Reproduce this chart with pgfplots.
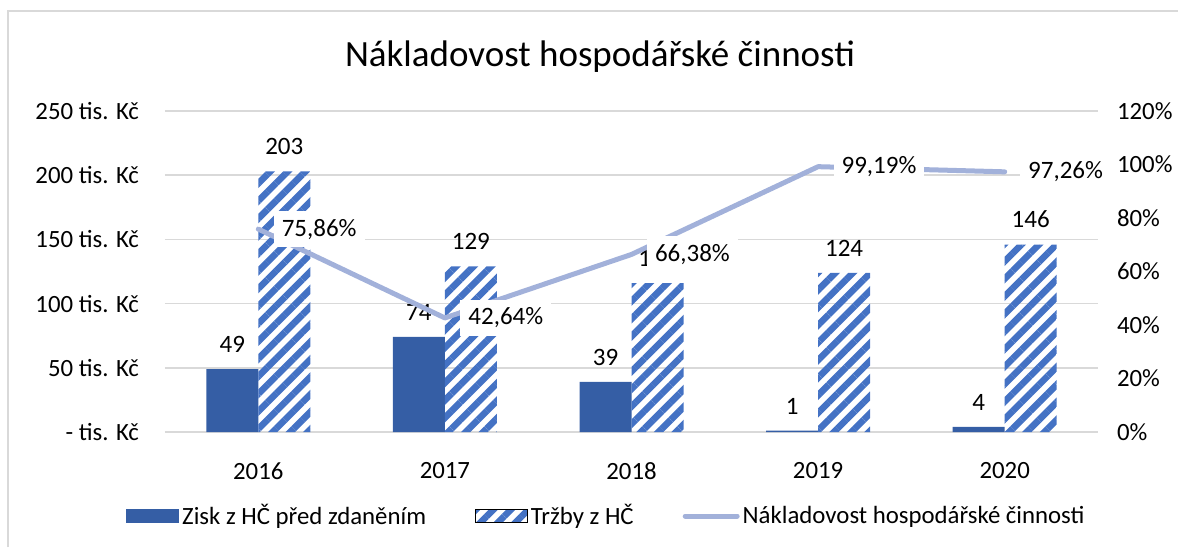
\documentclass[border=0pt]{standalone}
\usepackage{fontspec}
\setmainfont{Carlito}
\usepackage{pgfplots}
\pgfplotsset{compat=1.18}
\usetikzlibrary{patterns.meta}
\definecolor{zisk}{RGB}{53,94,165}
\definecolor{trz}{RGB}{68,114,196}
\definecolor{nak}{RGB}{162,177,218}
\definecolor{gridc}{RGB}{217,217,217}
\begin{document}
\begin{tikzpicture}
\useasboundingbox (-82.5pt,-57.5pt) rectangle (506.5pt,216pt);
\draw[gridc, line width=1pt] (-78.5pt,-57.5pt) -- (-78.5pt,210.5pt) -- (506.5pt,210.5pt);
\node[font=\fontsize{18.5}{22}\selectfont] at (217.5pt,187.5pt) {Nákladovost hospodářské činnosti};
\begin{axis}[
  at={(0pt,0pt)}, anchor=south west,
  scale only axis, width=466.5pt, height=160.5pt,
  xmin=-0.5, xmax=4.5, ymin=0, ymax=250,
  ytick={0,50,...,250},
  yticklabels={- tis. Kč, 50 tis. Kč, 100 tis. Kč, 150 tis. Kč, 200 tis. Kč, 250 tis. Kč},
  xtick={0,...,4}, xticklabels={2016,2017,2018,2019,2020},
  axis line style={draw=none},
  tick style={draw=none},
  ymajorgrids, grid style={gridc, line width=0.75pt},
  ticklabel style={font=\fontsize{12.4}{14}\selectfont},
  yticklabel style={xshift=-9.5pt},
  xticklabel style={yshift=-7.5pt},
  ybar=0pt, bar width=26pt,
  nodes near coords, point meta=explicit symbolic,
  every node near coord/.append style={font=\fontsize{12.5}{14}\selectfont, anchor=south, inner sep=0pt, yshift=8pt, text=black},
  clip=false,
]
\addplot[fill=zisk, draw=none] table[meta=l] {
x y l
0 49 49
1 74 74
2 39 39
3 1 1
4 4 4
};
\addplot[draw=none, pattern={Lines[angle=45,distance=6.2pt,line width=3.3pt]}, pattern color=trz] table[meta=l] {
x y l
0 203 203
1 129 129
2 116 116
3 124 124
4 146 146
};
\end{axis}
\begin{axis}[
  at={(0pt,0pt)}, anchor=south west,
  scale only axis, width=466.5pt, height=160.5pt,
  xmin=-0.5, xmax=4.5, ymin=0, ymax=120,
  axis y line*=right, axis x line=none,
  ytick={0,20,...,120},
  yticklabels={0\%,20\%,40\%,60\%,80\%,100\%,120\%},
  axis line style={draw=none}, tick style={draw=none},
  ticklabel style={font=\fontsize{12.4}{14}\selectfont},
  yticklabel style={xshift=6pt},
  clip=false,
  legend columns=3,
  legend style={at={(0.4737,-0.2617)}, anchor=center, draw=none, fill=none,
    font=\fontsize{12.4}{14}\selectfont,
    /tikz/every even column/.append style={column sep=23pt},
    nodes={inner xsep=1.5pt}},
  legend cell align=left,
]
\addlegendimage{legend image code/.code={\fill[zisk] (0pt,-3.25pt) rectangle (26pt,3.25pt);}}
\addlegendentry{Zisk z HČ před zdaněním}
\addlegendimage{legend image code/.code={\fill[pattern={Lines[angle=45,distance=6.2pt,line width=3.3pt]}, pattern color=trz] (0pt,-3.25pt) rectangle (26pt,3.25pt);}}
\addlegendentry{Tržby z HČ}
\addlegendimage{legend image code/.code={\draw[nak, line width=2.5pt, line cap=round] (0pt,0pt) -- (26pt,0pt);}}
\addlegendentry{Nákladovost hospodářské činnosti}
\addplot[nak, line width=2.5pt, line cap=round, line join=round, mark=none, forget plot,
  nodes near coords, point meta=explicit symbolic,
  every node near coord/.append style={anchor=west, fill=white, inner sep=4pt, xshift=6.5pt, font=\fontsize{12.5}{14}\selectfont, text=black}]
  table[meta=l] {
x y l
0 75.86 {75,86\%}
1 42.64 {42,64\%}
2 66.38 {66,38\%}
3 99.19 {99,19\%}
4 97.26 {97,26\%}
};
\end{axis}
\end{tikzpicture}
\end{document}
